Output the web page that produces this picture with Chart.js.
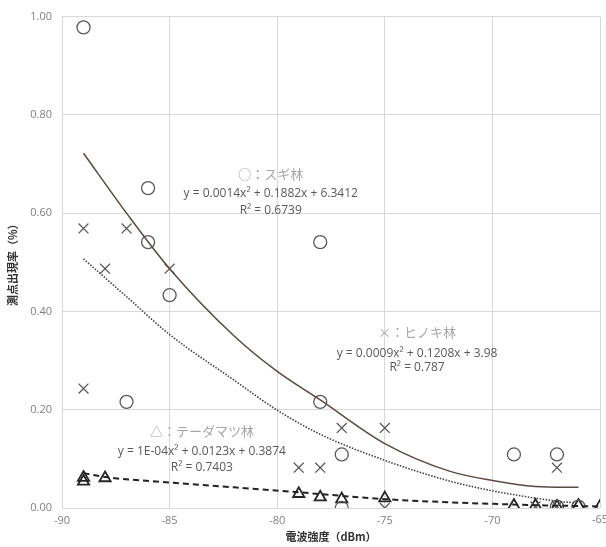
<!DOCTYPE html>
<html>
<head>
<meta charset="utf-8">
<script src="https://cdn.jsdelivr.net/npm/chart.js@4/dist/chart.umd.min.js"></script>
<style>
  html, body { margin:0; padding:0; background:#fff; }
  #wrap { width:606px; height:547px; }
</style>
</head>
<body>
<div id="wrap"><canvas id="c" width="606" height="547"></canvas></div>
<script>
/* data */
const xTicks = [-90, -85, -80, -75, -70, -65];

// ○ スギ林
const sugiX = [-89, -86, -86, -85, -87, -78, -78, -77, -77, -69, -67, -67, -66];
const sugiY = [0.978, 0.651, 0.541, 0.433, 0.216, 0.541, 0.216, 0.109, 0.000, 0.109, 0.109, 0.003, 0.003];

// × ヒノキ林
const hinokiX = [-89, -87, -88, -85, -89, -79, -78, -77, -75, -75, -67, -68, -67];
const hinokiY = [0.569, 0.569, 0.487, 0.487, 0.243, 0.082, 0.082, 0.163, 0.163, 0.000, 0.082, 0.003, 0.003];

// △ テーダマツ林
const taedaX = [-89, -89, -88, -79, -78, -77, -75, -69, -68, -67, -66, -65];
const taedaY = [0.062, 0.054, 0.061, 0.029, 0.022, 0.018, 0.020, 0.005, 0.005, 0.003, 0.005, 0.003];

// trend curves (values read at these x)
const sugiTrendX = [-89, -87, -85, -82, -80, -78, -75, -72, -70, -68, -66];
const sugiTrendY = [0.722, 0.600, 0.487, 0.350, 0.278, 0.220, 0.131, 0.075, 0.056, 0.044, 0.042];
const hinokiTrendX = [-89, -87, -85, -82, -80, -78, -75, -72, -70, -67, -66];
const hinokiTrendY = [0.507, 0.430, 0.353, 0.260, 0.199, 0.150, 0.097, 0.055, 0.035, 0.014, 0.010];
const taedaTrendX = [-89, -88, -85, -82, -79, -75, -69, -65];
const taedaTrendY = [0.071, 0.063, 0.052, 0.042, 0.032, 0.018, 0.007, 0.003];

const pts = (xs, ys) => xs.map((x, i) => ({ x, y: ys[i] }));
const lastX = xTicks[xTicks.length - 1];

const notes = [
  { x:-80.3, y:0.680, text:'○：スギ林', kind:'cat' },
  { x:-80.3, y:0.639, text:'y = 0.0014x² + 0.1882x + 6.3412', kind:'eq' },
  { x:-80.3, y:0.605, text:'R² = 0.6739', kind:'eq' },
  { x:-73.5, y:0.359, text:'×：ヒノキ林', kind:'cat' },
  { x:-73.5, y:0.314, text:'y = 0.0009x² + 0.1208x + 3.98', kind:'eq' },
  { x:-73.5, y:0.286, text:'R² = 0.787', kind:'eq' },
  { x:-83.5, y:0.156, text:'△：テーダマツ林', kind:'cat' },
  { x:-83.5, y:0.114, text:'y = 1E-04x² + 0.0123x + 0.3874', kind:'eq' },
  { x:-83.5, y:0.083, text:'R² = 0.7403', kind:'eq' },
];

const noteStyle = {
  cat: { font:'13px "Noto Sans CJK JP"', color:'#a6a6a6' },
  eq:  { font:'12px "Open Sans"', color:'#595959' },
};

const markCol = '#595959';
const tickFont = { size:11, family:'"Open Sans", "Noto Sans"' };

const notePlugin = {
  id: 'notes',
  afterDatasetsDraw(chart) {
    const { ctx, scales:{ x, y } } = chart;
    ctx.save();
    ctx.textAlign = 'center';
    ctx.textBaseline = 'middle';
    notes.forEach(n => {
      const s = noteStyle[n.kind];
      ctx.font = s.font;
      ctx.fillStyle = s.color;
      ctx.fillText(n.text, x.getPixelForValue(n.x), y.getPixelForValue(n.y));
    });
    // last x tick label, drawn here so it can run off the canvas edge like the original
    ctx.font = `${tickFont.size}px ${tickFont.family}`;
    ctx.fillStyle = '#808080';
    ctx.textBaseline = 'top';
    ctx.fillText(String(lastX), x.getPixelForValue(lastX), x.top + 6);
    ctx.restore();
  }
};

new Chart(document.getElementById('c'), {
  type: 'scatter',
  data: {
    datasets: [
      { data: pts(sugiTrendX, sugiTrendY), showLine:true, pointRadius:0, borderColor:'#5a4a42', borderWidth:1.5, cubicInterpolationMode:'monotone', fill:false },
      { data: pts(hinokiTrendX, hinokiTrendY), showLine:true, pointRadius:0, borderColor:'#404040', borderWidth:1.6, borderDash:[1.5,1.5], cubicInterpolationMode:'monotone', fill:false },
      { data: pts(taedaTrendX, taedaTrendY), showLine:true, pointRadius:0, borderColor:'#222', borderWidth:2, borderDash:[6,4], cubicInterpolationMode:'monotone', fill:false },
      { data: pts(sugiX, sugiY), pointStyle:'circle', pointRadius:6.5, backgroundColor:'rgba(0,0,0,0)', borderColor:markCol, borderWidth:1.3 },
      { data: pts(hinokiX, hinokiY), pointStyle:'crossRot', pointRadius:7, borderColor:markCol, borderWidth:1.3 },
      { data: pts(taedaX, taedaY), pointStyle:'triangle', pointRadius:6.5, backgroundColor:'rgba(0,0,0,0)', borderColor:'#262626', borderWidth:1.8 },
    ]
  },
  options: {
    responsive: false,
    animation: false,
    layout: { autoPadding:false, padding: { top:15, right:3, left:0, bottom:0 } },
    plugins: { legend:{ display:false }, tooltip:{ enabled:false } },
    scales: {
      x: {
        type:'linear', min:-90, max:-65,
        afterBuildTicks: s => { s.ticks = xTicks.map(v => ({ value:v })); },
        afterFit: s => { s.height = 39; },
        grid: { color:'#d9d9d9', drawTicks:false },
        border: { display:false },
        ticks: { color:'#808080', font:tickFont, padding:6, callback: v => v === lastX ? '' : String(v) },
        title: { display:true, text:'電波強度（dBm）', color:'#333', padding:{ top:0, bottom:4 },
                 font:{ size:11, weight:'bold', family:'"Noto Sans CJK JP"' } },
      },
      y: {
        min:0, max:1,
        afterFit: s => { s.width = 62; },
        grid: { color:'#d9d9d9', drawTicks:false },
        border: { display:false },
        ticks: { stepSize:0.2, color:'#808080', font:tickFont, padding:10, callback: v => v.toFixed(2) },
        title: { display:true, text:'測点出現率（%）', color:'#333', padding:{ top:6, bottom:0 },
                 font:{ size:11, weight:'bold', family:'"Noto Sans CJK JP"' } },
      }
    }
  },
  plugins: [notePlugin]
});
</script>
</body>
</html>
